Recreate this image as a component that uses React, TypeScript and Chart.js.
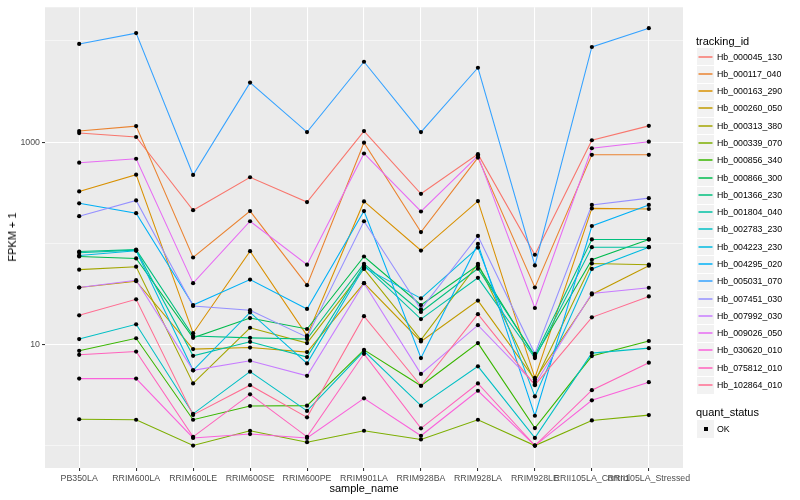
import { useEffect, useRef } from "react";
import { Chart, registerables } from "chart.js";

Chart.register(...registerables);

const sampleNames = [
  "PB350LA", "RRIM600LA", "RRIM600LE", "RRIM600SE", "RRIM600PE", "RRIM901LA",
  "RRIM928BA", "RRIM928LA", "RRIM928LE", "RRII105LA_Control", "RRII105LA_Stressed",
];

const trackingIds = [
  "Hb_000045_130", "Hb_000117_040", "Hb_000163_290", "Hb_000260_050", "Hb_000313_380",
  "Hb_000339_070", "Hb_000856_340", "Hb_000866_300", "Hb_001366_230", "Hb_001804_040",
  "Hb_002783_230", "Hb_004223_230", "Hb_004295_020", "Hb_005031_070", "Hb_007451_030",
  "Hb_007992_030", "Hb_009026_050", "Hb_030620_010", "Hb_075812_010", "Hb_102864_010",
];

const seriesColors = [
  "#F8766D", "#EA8331", "#D89000", "#C09B00", "#A3A500", "#7CAE00", "#39B600", "#00BB4E",
  "#00BF7D", "#00C1A3", "#00BFC4", "#00BAE0", "#00B0F6", "#35A2FF", "#9590FF", "#C77CFF",
  "#E76BF3", "#FA62DB", "#FF62BC", "#FF6C91",
];

// FPKM + 1 values, one per sample
const hb_000045_130 = [1228, 1122, 212, 449, 255, 1285, 308, 760, 76.9, 1042, 1446];
const hb_000117_040 = [1285, 1438, 72.3, 208, 38.5, 986, 129, 703, 36.5, 748, 748];
const hb_000163_290 = [325, 476, 12.9, 83.5, 12.2, 259, 84.7, 261, 4.67, 221, 218];
const hb_000260_050 = [36.5, 42.1, 8.98, 9.31, 8.39, 40.3, 10.7, 27.1, 4.5, 31.2, 60.0];
const hb_000313_380 = [54.8, 58.6, 4.11, 14.6, 10.3, 55.7, 11.1, 62.7, 4.27, 63.1, 61.4];
const hb_000339_070 = [1.82, 1.8, 1.0, 1.4, 1.08, 1.4, 1.15, 1.8, 1.0, 1.77, 2.0];
const hb_000856_340 = [8.64, 11.5, 1.8, 2.46, 2.48, 8.84, 3.9, 10.3, 1.49, 7.67, 10.8];
const hb_000866_300 = [73.9, 70.7, 11.6, 18.2, 14.2, 73.9, 24.5, 60.4, 7.55, 68.7, 109];
const hb_001366_230 = [82.8, 86.5, 12.1, 11.6, 11.3, 62.7, 20.9, 56.1, 7.77, 109, 109];
const hb_001804_040 = [80.4, 85.4, 7.71, 10.6, 7.5, 60.4, 17.8, 45.5, 7.33, 91.4, 91.4];
const hb_002783_230 = [11.3, 15.8, 2.06, 5.38, 2.2, 8.58, 2.48, 6.07, 1.19, 8.2, 9.18];
const hb_004223_230 = [75.6, 84.1, 5.54, 20.7, 6.49, 57.7, 28.5, 90.6, 3.06, 55.7, 91.4];
const hb_004295_020 = [248, 198, 24.5, 43.7, 22.4, 208, 7.33, 98.4, 1.97, 148, 239];
const hb_005031_070 = [9330, 11940, 473, 3870, 1256, 6220, 1256, 5430, 60.4, 8710, 13370];
const hb_007451_030 = [185, 265, 24.0, 21.8, 11.8, 165, 22.2, 118, 8.07, 239, 279];
const hb_007992_030 = [36.5, 43.1, 5.54, 6.9, 4.89, 40.3, 5.11, 15.5, 4.04, 31.9, 36.3];
const hb_009026_050 = [625, 684, 40.3, 165, 61.4, 771, 206, 731, 22.9, 869, 1009];
const hb_030620_010 = [4.59, 4.59, 1.19, 1.3, 1.19, 2.93, 1.25, 3.48, 1.0, 2.8, 4.23];
const hb_075812_010 = [7.89, 8.5, 1.22, 3.21, 1.22, 8.07, 1.48, 4.11, 1.0, 3.53, 6.59];
const hb_102864_010 = [19.4, 27.9, 2.01, 3.95, 1.9, 19.0, 3.9, 19.9, 3.95, 18.5, 29.8];

const seriesValues = [
  hb_000045_130, hb_000117_040, hb_000163_290, hb_000260_050, hb_000313_380,
  hb_000339_070, hb_000856_340, hb_000866_300, hb_001366_230, hb_001804_040,
  hb_002783_230, hb_004223_230, hb_004295_020, hb_005031_070, hb_007451_030,
  hb_007992_030, hb_009026_050, hb_030620_010, hb_075812_010, hb_102864_010,
];

const yGridValues = [1, 10, 100, 1000, 10000];
const yLabelValues = [10, 1000];

const FONT = "'Liberation Sans', Arial, Helvetica, sans-serif";

const panelBackground = {
  id: "panelBackground",
  beforeDraw(chart: any) {
    const { ctx, chartArea: a } = chart;
    ctx.save();
    ctx.fillStyle = "#EBEBEB";
    ctx.fillRect(a.left, a.top, a.right - a.left, a.bottom - a.top);
    ctx.restore();
  },
};

export default function App() {
  const canvasRef = useRef<HTMLCanvasElement | null>(null);

  useEffect(() => {
    if (!canvasRef.current) return;
    const datasets: any[] = [];
    seriesValues.forEach((vals, i) => {
      datasets.push({
        label: trackingIds[i],
        data: vals.map((v, j) => ({ x: j, y: v })),
        borderColor: seriesColors[i],
        backgroundColor: seriesColors[i],
        borderWidth: 1.07,
        pointRadius: 0,
        fill: false,
        tension: 0,
        order: 100 - i,
      });
    });
    seriesValues.forEach((vals, i) => {
      datasets.push({
        label: trackingIds[i] + " OK",
        data: vals.map((v, j) => ({ x: j, y: v })),
        showLine: false,
        pointRadius: 2.1,
        pointBackgroundColor: "#000000",
        pointBorderColor: "#000000",
        pointBorderWidth: 0,
        order: 0,
      });
    });

    const chart = new Chart(canvasRef.current, {
      type: "line",
      data: { datasets },
      options: {
        responsive: false,
        animation: false,
        events: [],
        layout: { padding: { left: 0, top: 5, right: 117, bottom: 0 } },
        plugins: { legend: { display: false }, tooltip: { enabled: false } },
        scales: {
          x: {
            type: "linear",
            min: -0.6,
            max: 10.6,
            afterBuildTicks: (s: any) => {
              s.ticks = sampleNames.map((_, i) => ({ value: i }));
            },
            afterFit: (s: any) => {
              s.height = 32;
            },
            grid: {
              color: "#FFFFFF",
              lineWidth: 1.07,
              tickLength: 3,
              tickColor: "#333333",
              tickWidth: 1.07,
            },
            border: { display: false },
            ticks: {
              autoSkip: false,
              maxRotation: 0,
              minRotation: 0,
              padding: 2,
              color: "#4D4D4D",
              font: { family: FONT, size: 8.8 },
              callback: (v: any) => sampleNames[v as number] ?? "",
            },
          },
          y: {
            type: "logarithmic",
            min: 0.632,
            max: 21500,
            afterBuildTicks: (s: any) => {
              s.ticks = yGridValues.map((v) => ({ value: v }));
            },
            afterFit: (s: any) => {
              s.width = 45;
            },
            grid: {
              color: "#FFFFFF",
              lineWidth: (c: any) => (yLabelValues.includes(c.tick?.value) ? 1.07 : 0.53),
              tickLength: 3,
              tickWidth: 1.07,
              tickColor: (c: any) =>
                yLabelValues.includes(c.tick?.value) ? "#333333" : "rgba(0,0,0,0)",
            },
            border: { display: false },
            ticks: {
              autoSkip: false,
              padding: 2,
              color: "#4D4D4D",
              font: { family: FONT, size: 8.8 },
              callback: (v: any) => (yLabelValues.includes(v as number) ? String(v) : ""),
            },
          },
        },
      } as any,
      plugins: [panelBackground],
    });
    return () => chart.destroy();
  }, []);

  const keyTop = 48;
  const keyH = 17.28;

  return (
    <div
      style={{
        position: "absolute",
        left: 0,
        top: 0,
        width: 800,
        height: 500,
        background: "#FFFFFF",
        fontFamily: FONT,
        overflow: "hidden",
      }}
    >
      <canvas ref={canvasRef} width={800} height={500} style={{ position: "absolute", left: 0, top: 0 }} />
      <div
        style={{
          position: "absolute",
          left: 12,
          top: 236.5,
          transform: "translate(-50%, -50%) rotate(-90deg)",
          fontSize: 11,
          color: "#000",
          whiteSpace: "nowrap",
        }}
      >
        FPKM + 1
      </div>
      <div
        style={{
          position: "absolute",
          left: 364,
          top: 488,
          transform: "translate(-50%, -50%)",
          fontSize: 11,
          color: "#000",
          whiteSpace: "nowrap",
        }}
      >
        sample_name
      </div>
      <div
        style={{
          position: "absolute",
          left: 696,
          top: 40.7,
          transform: "translateY(-50%)",
          fontSize: 11,
          color: "#000",
          whiteSpace: "nowrap",
        }}
      >
        tracking_id
      </div>
      {trackingIds.map((id, i) => {
        const top = keyTop + i * keyH;
        return (
          <div key={id}>
            <div
              style={{
                position: "absolute",
                left: 697,
                top: top,
                width: 17,
                height: keyH,
                background: "#F2F2F2",
                borderTop: i === 0 ? "none" : "1px solid #FFFFFF",
                boxSizing: "border-box",
              }}
            />
            <svg
              width={17}
              height={4}
              style={{ position: "absolute", left: 697, top: Math.round(top + keyH / 2) - 2 }}
            >
              <line x1={1.5} y1={2} x2={15.5} y2={2} stroke={seriesColors[i]} strokeWidth={1.5} />
            </svg>
            <div
              style={{
                position: "absolute",
                left: 717,
                top: top + keyH / 2,
                transform: "translateY(-50%)",
                fontSize: 8.8,
                color: "#000",
                whiteSpace: "nowrap",
              }}
            >
              {id}
            </div>
          </div>
        );
      })}
      <div
        style={{
          position: "absolute",
          left: 696,
          top: 412.3,
          transform: "translateY(-50%)",
          fontSize: 11,
          color: "#000",
          whiteSpace: "nowrap",
        }}
      >
        quant_status
      </div>
      <div
        style={{
          position: "absolute",
          left: 697,
          top: 420.4,
          width: 17,
          height: keyH,
          background: "#F2F2F2",
        }}
      />
      <div
        style={{
          position: "absolute",
          left: 703.5,
          top: 427,
          width: 4,
          height: 4,
          background: "#000",
        }}
      />
      <div
        style={{
          position: "absolute",
          left: 717,
          top: 429,
          transform: "translateY(-50%)",
          fontSize: 8.8,
          color: "#000",
          whiteSpace: "nowrap",
        }}
      >
        OK
      </div>
    </div>
  );
}
